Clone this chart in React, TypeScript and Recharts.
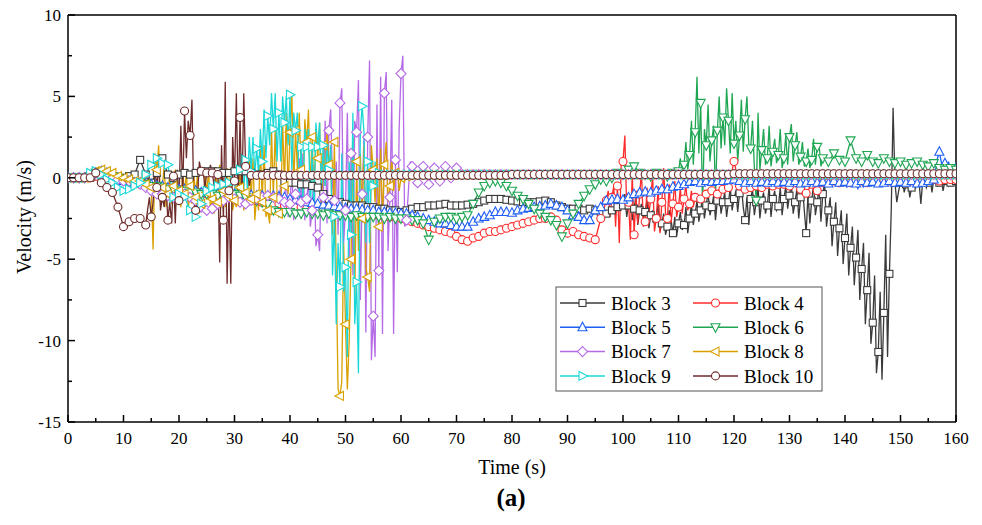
import React from 'react';
import { LineChart, Line, XAxis, YAxis, ReferenceLine } from 'recharts';

// one value per second, t = 0..160 (these carry the markers)
const b3 = [
  0, 0, 0, 0, 0, 0.1, 0.1, 0, 0, 0,
  0, 0.1, 0.2, 1.1, 0.2, -0.3, 0.3, 1.2, 0.2, 0,
  0.2, 0.3, 0.2, 0.3, 0.4, 0.4, 0.4, 0.4, 0.3, 0.3,
  0.4, 0.4, 0.4, 0.3, 0.2, 0.2, 0.3, 0.4, 0.2, -0.2,
  -0.3, -0.3, -0.4, -0.4, -0.5, -0.6, -1.0, -1.3, -1.5, -1.5,
  -1.6, -1.7, -1.7, -1.7, -1.8, -1.8, -1.9, -1.9, -2.0, -2.0,
  -2.1, -2.0, -1.9, -1.8, -1.8, -1.7, -1.7, -1.65, -1.6, -1.7,
  -1.7, -1.7, -1.65, -1.6, -1.5, -1.4, -1.3, -1.3, -1.3, -1.35,
  -1.4, -1.45, -1.5, -1.5, -1.5, -1.45, -1.4, -1.5, -1.7, -1.8,
  -1.9, -1.9, -1.9, -2.0, -1.9, -2.0, -2.1, -2.2, -2.0, -1.8,
  -1.7, -1.7, -1.9, -2.0, -2.1, -2.3, -2.5, -2.8, -3.0, -3.4,
  -2.8, -2.9, -2.5, -2.2, -2.0, -1.7, -1.8, -1.4, -1.5, -1.5,
  -1.3, -0.95, -2.6, -1.3, -1.5, -1.4, -1.7, -1.3, -1.75, -1.3,
  -1.1, -1.5, -1.2, -3.4, -1.4, -1.5, -1.0, -2.0, -2.7, -3.1,
  -3.7, -4.3, -4.9, -5.6, -6.9, -8.9, -10.7, -8.3, -5.9, -0.3,
  -0.3, -0.4, -0.6, -0.3, -0.2, -0.3, -0.1, -0.3, -0.2, -0.3,
  -0.2,
];
const b4 = [
  0, 0, 0, 0, 0, 0.1, 0.1, 0, -0.1, -0.2,
  -0.2, -0.3, -0.3, -0.4, -0.4, -0.5, -0.5, -0.6, -0.6, -0.7,
  -0.7, -0.8, -0.8, -0.9, -0.9, -1.0, -1.0, -1.1, -1.1, -1.2,
  -1.2, -1.3, -1.3, -1.4, -1.4, -1.5, -1.5, -1.6, -1.6, -1.7,
  -1.7, -1.8, -1.8, -1.9, -1.9, -2.0, -2.0, -2.0, -2.1, -2.1,
  -2.1, -2.2, -2.2, -2.2, -2.3, -2.3, -2.3, -2.4, -2.4, -2.4,
  -2.5, -2.6, -2.7, -2.8, -2.9, -3.0, -3.1, -3.2, -3.3, -3.4,
  -3.6, -3.8, -3.9, -3.7, -3.6, -3.4, -3.3, -3.3, -3.2, -3.1,
  -3.0, -2.9, -2.8, -2.7, -2.6, -2.5, -2.5, -2.4, -2.6, -3.2,
  -3.4, -3.3, -3.5, -3.6, -3.7, -3.8, -2.5, -1.4, -1.2, -0.5,
  1.0, -1.5, -3.5, -1.0, -2.7, -1.3, -2.5, -1.5, -2.5, -1.6,
  -1.8, -1.3, -1.6, -1.2, -1.3, -1.0, -0.8, -1.0, -0.7, -0.6,
  1.0, -0.5, -0.7, -0.6, -0.5, -0.6, -0.4, -0.5, -0.4, -0.4,
  -0.5, -0.3, -0.7, -0.95, -0.4, -0.8, -0.3, -0.3, -0.2, -0.3,
  -0.2, -0.3, -0.2, -0.2, -0.3, -0.2, -0.1, -0.2, -0.2, -0.1,
  -0.2, -0.1, -0.2, -0.1, -0.2, -0.1, -0.1, -0.2, -0.1, -0.1,
  -0.1,
];
const b5 = [
  0, 0, 0, 0, 0.1, 0.3, 0.4, 0.3, 0.1, 0,
  -0.2, -0.2, -0.3, -0.3, -0.4, -0.4, -0.5, -0.5, -0.6, -0.6,
  -0.7, -0.7, -0.8, -0.8, -0.9, -0.9, -0.9, -1.0, -1.0, -1.0,
  -1.0, -1.0, -1.05, -1.05, -1.1, -1.1, -1.1, -1.1, -1.15, -1.2,
  -1.3, -1.35, -1.4, -1.5, -1.55, -1.6, -1.65, -1.7, -1.75, -1.8,
  -1.85, -1.9, -1.9, -1.95, -2.0, -2.0, -2.1, -2.1, -2.15, -2.15,
  -2.2, -2.2, -2.3, -2.4, -2.5, -2.6, -2.7, -2.8, -2.8, -2.9,
  -3.0, -3.0, -3.0, -2.7, -2.5, -2.4, -2.3, -2.1, -2.1, -2.1,
  -2.15, -2.0, -1.9, -1.85, -1.8, -1.75, -1.7, -1.6, -1.7, -1.8,
  -2.0, -2.3, -2.4, -2.6, -2.6, -2.0, -1.8, -1.4, -1.35, -1.3,
  -1.35, -1.2, -1.0, -0.9, -0.85, -0.9, -0.8, -0.7, -0.7, -0.55,
  -0.5, -0.4, -0.25, -0.2, -0.3, -0.2, -0.25, -0.2, -0.2, -0.15,
  -0.1, -0.2, -0.3, -0.2, -0.3, -0.25, -0.3, -0.2, -0.3, -0.25,
  -0.3, -0.2, -0.35, -0.3, -0.2, -0.3, -0.25, -0.35, -0.2, -0.3,
  -0.25, -0.3, -0.35, -0.2, -0.3, -0.25, -0.35, -0.3, -0.2, -0.3,
  -0.25, -0.3, -0.2, -0.35, -0.3, -0.2, -0.1, 1.6, 0.9, 0.4,
  0.6,
];
const b6 = [
  0, 0, 0, 0, 0.1, 0.3, 0.3, 0.2, 0.1, 0,
  -0.1, -0.2, -0.3, -0.3, -0.4, -0.5, -0.5, -0.6, -0.7, -0.7,
  -0.8, -0.8, -0.9, -0.9, -1.0, -1.0, -1.0, -1.1, -1.1, -1.0,
  -1.0, -1.1, -1.2, -1.3, -1.4, -1.5, -1.6, -2.0, -2.1, -2.1,
  -2.1, -2.2, -2.2, -2.1, -2.2, -2.2, -2.3, -2.2, -2.3, -2.3,
  -2.3, -2.4, -2.3, -2.4, -2.4, -2.4, -2.4, -2.5, -2.4, -2.5,
  -2.5, -2.5, -2.6, -2.6, -2.8, -3.8, -2.7, -2.5, -2.4, -2.4,
  -2.5, -2.4, -2.3, -1.6, -0.9, -0.5, -0.3, -0.2, -0.3, -0.5,
  -0.8, -1.1, -1.3, -1.6, -1.9, -2.2, -2.4, -2.6, -2.9, -3.6,
  -2.8, -2.2, -1.6, -1.1, -0.7, -0.4, -0.1, -0.2, 0.0, 0.3,
  0.2, 0.5, 0.7, 0.3, 0.2, 0.1, 0.3, 0.2, 0.1, 0.3,
  0.4, 0.8, 1.4, 2.8, 4.6, 2.0, 2.3, 2.9, 3.7, 3.5,
  2.1, 2.6, 3.6, 1.8, -1.4, 1.7, 1.2, 1.6, 1.4, 1.2,
  2.5, 2.0, 1.3, 1.0, 1.1, 1.9, 1.2, 1.0, 1.5, 1.1,
  1.0, 2.3, 1.2, 1.0, 1.4, 1.0, 0.9, 1.2, 1.0, 0.9,
  1.0, 0.8, 0.9, 1.0, 0.8, 0.7, 0.9, 0.6, 0.5, 0.6,
  0.5,
];
const b7 = [
  0, 0, 0, 0, 0.1, 0.3, 0.2, 0.1, 0, -0.1,
  -0.2, -0.2, -0.3, -0.4, -0.6, -0.8, -1.0, -1.0, -1.1, -1.2,
  -1.1, -1.0, -1.2, -1.4, -1.8, -2.0, -1.9, -1.6, -1.4, -1.2,
  -1.3, -1.5, -1.6, -1.4, -1.3, -1.2, -1.1, -1.2, -1.3, -1.5,
  -1.6, -1.0, -1.5, -1.3, -2.0, -3.5, -1.2, 2.9, -1.4, 4.6,
  -2.0, 1.5, 2.8, -1.0, 2.5, -8.5, -5.7, 5.2, -1.2, 1.1,
  6.4, -2.6, 0.7, -0.3, 0.7, -0.4, 0.6, -0.2, 0.7, 0.0,
  0.6, 0.2, 0.2, 0.2, 0.2, 0.2, 0.2, 0.2, 0.2, 0.2,
  0.2, 0.2, 0.2, 0.2, 0.2, 0.2, 0.2, 0.2, 0.2, 0.2,
  0.2, 0.2, 0.2, 0.2, 0.2, 0.2, 0.2, 0.2, 0.2, 0.2,
  0.2, 0.2, 0.2, 0.2, 0.2, 0.2, 0.2, 0.2, 0.2, 0.2,
  0.2, 0.2, 0.2, 0.2, 0.2, 0.2, 0.2, 0.2, 0.2, 0.2,
  0.2, 0.2, 0.2, 0.2, 0.2, 0.2, 0.2, 0.2, 0.2, 0.2,
  0.2, 0.2, 0.2, 0.2, 0.2, 0.2, 0.2, 0.2, 0.2, 0.2,
  0.2, 0.2, 0.2, 0.2, 0.2, 0.2, 0.2, 0.2, 0.2, 0.2,
  0.2, 0.2, 0.2, 0.2, 0.2, 0.2, 0.2, 0.2, 0.2, 0.2,
  0.2,
];
const b8 = [
  0, 0, 0, 0, 0.1, 0.4, 0.5, 0.4, 0.3, 0.1,
  0, -0.1, -0.2, -0.2, -0.4, -0.6, 0.5, -0.6, -1.0, -0.5,
  -0.8, -1.0, -0.5, -1.2, -1.6, -0.9, -1.3, -1.5, -0.8, -1.1,
  -1.4, -0.6, -0.9, -1.3, -1.0, -1.5, -2.0, -1.2, -2.2, -0.5,
  2.8, 2.9, 0.5, 2.2, 2.5, 1.2, 2.0, 0.8, 2.2, -13.4,
  -9.0, -5.0, 1.0, -2.5, -6.1, 0.5, -3.0, 0.8, -0.5, 0.3,
  0, 0.1, 0.2, 0.2, 0.2, 0.2, 0.2, 0.2, 0.2, 0.2,
  0.2, 0.2, 0.2, 0.2, 0.2, 0.2, 0.2, 0.2, 0.2, 0.2,
  0.2, 0.2, 0.2, 0.2, 0.2, 0.2, 0.2, 0.2, 0.2, 0.2,
  0.2, 0.2, 0.2, 0.2, 0.2, 0.2, 0.2, 0.2, 0.2, 0.2,
  0.2, 0.2, 0.2, 0.2, 0.2, 0.2, 0.2, 0.2, 0.2, 0.2,
  0.2, 0.2, 0.2, 0.2, 0.2, 0.2, 0.2, 0.2, 0.2, 0.2,
  0.2, 0.2, 0.2, 0.2, 0.2, 0.2, 0.2, 0.2, 0.2, 0.2,
  0.2, 0.2, 0.2, 0.2, 0.2, 0.2, 0.2, 0.2, 0.2, 0.2,
  0.2, 0.2, 0.2, 0.2, 0.2, 0.2, 0.2, 0.2, 0.2, 0.2,
  0.2, 0.2, 0.2, 0.2, 0.2, 0.2, 0.2, 0.2, 0.2, 0.2,
  0.2,
];
const b9 = [
  0, 0, 0, 0, 0.3, 0.4, 0.2, -0.1, -0.3, -0.6,
  -0.8, -0.7, -0.5, -0.3, 0.2, 0.8, 1.2, 0.9, 0.8, -1.2,
  -1.0, -1.2, -2.0, -2.4, -1.6, -0.8, -0.6, -0.5, -0.4, -0.3,
  -0.2, 0.5, 1.1, 0.4, 1.8, 1.0, 3.8, 3.0, 4.0, 3.4,
  5.1, 2.9, 1.9, 1.9, 1.9, 1.9, 2.0, 0.5, -2.4, -6.7,
  -5.5, -3.5, -6.4, 4.4, 1.0, -0.5, 0.3, 0.2, 0.2, 0.2,
  0.2, 0.2, 0.2, 0.2, 0.2, 0.2, 0.2, 0.2, 0.2, 0.2,
  0.2, 0.2, 0.2, 0.2, 0.2, 0.2, 0.2, 0.2, 0.2, 0.2,
  0.2, 0.2, 0.2, 0.2, 0.2, 0.2, 0.2, 0.2, 0.2, 0.2,
  0.2, 0.2, 0.2, 0.2, 0.2, 0.2, 0.2, 0.2, 0.2, 0.2,
  0.2, 0.2, 0.2, 0.2, 0.2, 0.2, 0.2, 0.2, 0.2, 0.2,
  0.2, 0.2, 0.2, 0.2, 0.2, 0.2, 0.2, 0.2, 0.2, 0.2,
  0.2, 0.2, 0.2, 0.2, 0.2, 0.2, 0.2, 0.2, 0.2, 0.2,
  0.2, 0.2, 0.2, 0.2, 0.2, 0.2, 0.2, 0.2, 0.2, 0.2,
  0.2, 0.2, 0.2, 0.2, 0.2, 0.2, 0.2, 0.2, 0.2, 0.2,
  0.2, 0.2, 0.2, 0.2, 0.2, 0.2, 0.2, 0.2, 0.2, 0.2,
  0.2,
];
const b10 = [
  0, 0, 0, 0, 0, 0.3, -0.3, -0.6, -0.9, -1.8,
  -3.0, -2.7, -2.5, -2.5, -2.9, -2.4, -0.6, -1.2, -2.6, 0.1,
  -1.4, 4.1, 2.6, -2.0, 0.4, 0.3, 0.3, 0.2, -2.6, -0.8,
  -0.2, 3.7, 0.7, 0.15, 0.15, 0.15, 0.15, 0.15, 0.15, 0.15,
  0.15, 0.15, 0.15, 0.15, 0.15, 0.15, 0.15, 0.15, 0.15, 0.15,
  0.15, 0.15, 0.15, 0.15, 0.15, 0.15, 0.15, 0.15, 0.15, 0.15,
  0.15, 0.15, 0.15, 0.15, 0.15, 0.15, 0.15, 0.15, 0.15, 0.15,
  0.15, 0.15, 0.15, 0.15, 0.15, 0.15, 0.15, 0.15, 0.15, 0.15,
  0.2, 0.2, 0.2, 0.2, 0.2, 0.2, 0.2, 0.2, 0.2, 0.2,
  0.2, 0.2, 0.2, 0.2, 0.2, 0.2, 0.2, 0.2, 0.2, 0.2,
  0.2, 0.2, 0.2, 0.2, 0.2, 0.2, 0.2, 0.2, 0.2, 0.2,
  0.2, 0.2, 0.2, 0.2, 0.2, 0.2, 0.2, 0.2, 0.2, 0.2,
  0.25, 0.25, 0.25, 0.25, 0.25, 0.25, 0.25, 0.25, 0.25, 0.25,
  0.25, 0.25, 0.25, 0.25, 0.25, 0.25, 0.25, 0.25, 0.25, 0.25,
  0.25, 0.25, 0.25, 0.25, 0.25, 0.25, 0.25, 0.25, 0.25, 0.25,
  0.25, 0.25, 0.25, 0.25, 0.25, 0.25, 0.25, 0.25, 0.25, 0.25,
  0.25,
];

// two extra readings per second (at +1/3 s and +2/3 s) inside the noisy stretches, no markers
const b3MidStart = 100;
const b3Mid = [
  -1.0, -2.4, -1.3, -2.6, -1.1, -2.9, -1.6, -2.5, -1.4, -3.1,
  -2.0, -2.8, -1.6, -3.3, -2.2, -3.5, -2.0, -2.6, -2.4, -3.6,
  -2.1, -3.2, -1.8, -3.4, -1.6, -2.9, -1.4, -2.7, -1.2, -2.5,
  -0.9, -2.3, -1.1, -2.6, -0.7, -2.2, -0.9, -2.4, -0.6, -2.0,
  -0.8, -2.1, -0.5, -1.8, -1.2, -2.9, -0.7, -2.3, -0.6, -2.5,
  -0.9, -2.2, -0.5, -2.4, -0.8, -2.0, -0.6, -2.3, -0.5, -1.9,
  -0.4, -2.2, -0.7, -2.5, -0.5, -2.0, -1.0, -2.8, -0.4, -2.3,
  -0.6, -2.7, -0.3, -3.0, -1.2, -4.2, -1.5, -4.8, -2.0, -5.3,
  -2.2, -6.0, -3.0, -6.6, -3.2, -7.5, -4.0, -9.0, -4.6, -10.2,
  -6.0, -12.0, -7.0, -12.4, -3.5, -11.0, -2.0, 4.3, -1.5, -0.8,
  0.0, -0.9, -0.1, -1.2, 0.1, -0.7, -0.2, -1.6, 0.0, -0.6,
  0.1, -0.9, -0.2, -0.5, 0.0, -0.8, -0.1, -0.5, 0.0, -0.4,
];
const b4MidStart = 97;
const b4Mid = [
  -0.8, -2.4, -0.5, -3.0, -4.0, 0.8, 2.6, -2.0, -3.8, 0.3,
  -1.2, -2.8, 0.4, -3.0, -0.6, -2.2, 0.2, -3.3, -0.5, -3.4,
  0.6, -2.2, -0.4, -2.8, -0.2, -2.4, -0.6, -2.2, -0.4, -2.0,
  -0.8, -1.8,
];
const b5MidStart = 140;
const b5Mid = [
  -0.6, 0.1, -0.5, 0.0, -0.7, 0.2, -0.6, 0.1, -0.5, 0.0,
  -0.4, 0.1, -0.5, 0.0, -0.4, 0.2, -0.3, 0.0, -0.5, 0.1,
  -0.4, 0.2, -0.3, 0.0, -0.5, 0.1, -0.4, 0.0, -0.3, 0.2,
  -0.2, 0.4, 0.5, 1.2, 1.0, 0.3, 0.2, 1.0, 0.8, 0.3,
];
const b6MidStart = 110;
const b6Mid = [
  1.2, 0.2, 2.2, 0.5, 3.5, 0.8, 6.2, 1.5, -1.8, 3.0,
  4.5, 1.0, 3.2, -1.2, 5.0, 1.8, 2.0, 5.5, 1.5, 5.2,
  3.5, 1.0, 4.8, 1.6, 5.0, 2.0, 3.5, 0.6, 4.0, 0.5,
  3.0, 0.8, 3.2, 0.7, 2.4, 0.9, 3.0, 0.6, 2.6, 0.8,
  3.3, 1.0, 2.8, 0.8, 2.2, 0.7, 1.8, 0.6, 2.4, 0.8,
  2.0, 0.7,
];
const b7MidStart = 38;
const b7Mid = [
  -0.5, -2.0, 0.2, -2.4, 0.5, -2.6, -2.4, 1.2, 1.5, -2.6,
  -0.3, -3.0, 0.8, -4.2, -4.5, 1.0, 3.5, -2.8, 4.2, -0.5,
  1.0, -3.5, 5.5, -4.0, 4.0, -5.0, -6.0, 3.5, 6.0, -7.5,
  2.5, -9.5, 7.2, -11.2, -11.0, 4.5, 6.2, -9.6, 6.5, -4.5,
  4.8, -9.6, -5.8, 3.0, 7.5, -3.0, -0.8, 1.0,
];
const b8MidStart = 14;
const b8Mid = [
  -0.2, -1.0, -4.4, 1.5, 2.0, -1.5, 0.8, -1.8, 0.2, -1.6,
  0.5, -1.4, -1.8, 0.4, 0.4, -2.0, -1.6, 0.3, 0.3, -2.2,
  -1.8, 0.2, 0.5, -2.0, -2.2, 0.4, 0.8, -1.5, -1.8, 0.6,
  0.6, -2.0, -1.8, 0.9, 1.0, -2.0, -1.5, 1.2, 1.2, -2.6,
  -2.0, 2.0, 2.0, -2.4, -2.8, 3.0, 3.0, -1.0, -2.4, 3.5,
  4.0, -1.0, 5.2, -0.5, 0.5, 4.0, -1.2, 3.6, 4.2, -0.8,
  -1.5, 3.0, 3.4, -2.0, -0.5, 3.0, 1.5, -3.5, -6.0, -13.0,
  -12.5, -4.0, -13.0, -10.0, 2.5, -7.5, -4.5, 1.5, 2.0, -5.5,
  -7.0, 2.0, -1.5, 1.2, 1.8, -2.5, 2.2, -1.5, 1.2, -0.8,
  0.5, -0.8, 0.4, -0.2, 0.3, 0.1,
];
const b9MidStart = 30;
const b9Mid = [
  -1.5, 0.8, 1.5, -0.8, -0.8, 2.5, 2.5, 0.2, 0.2, 3.0,
  4.2, 1.2, 2.0, 5.2, 5.2, 1.0, 1.0, 5.0, 5.0, 2.0,
  0.5, 4.0, 4.0, -1.5, -1.5, 3.0, 3.0, -2.2, -2.2, 3.4,
  3.4, -0.5, -0.5, 2.0, 2.0, -6.0, -9.0, -4.0, 1.5, -7.0,
  -11.0, 1.0, 4.0, -9.0, -12.0, 2.8, 2.8, -4.0, -4.0, 1.0,
  1.0, -0.5,
];
const b10MidStart = 14;
const b10Mid = [
  -2.0, -1.2, -1.5, 0.6, 0.9, -2.0, -1.8, -0.5, -1.5, -2.8,
  -2.8, 0.5, 3.2, -1.0, 1.2, 3.5, 4.8, -1.5, -1.2, 1.0,
  0.5, -0.6, 0.2, 0.8, -0.5, 0.4, -5.2, 2.0, 5.9, -6.5,
  -6.5, 2.5, 5.2, -1.5, -1.5, 5.2, 0.6, -0.5,
];

const xTicks = [0, 5, 10, 15, 20, 25, 30, 35, 40, 45, 50, 55, 60, 65, 70, 75, 80, 85, 90, 95, 100, 105, 110, 115, 120, 125, 130, 135, 140, 145, 150, 155, 160];
const yTicks = [-15, -12.5, -10, -7.5, -5, -2.5, 0, 2.5, 5, 7.5, 10];

type Pt = { t: number; v: number; m: boolean };
type Shape = 'square' | 'circle' | 'up' | 'down' | 'diamond' | 'left' | 'right';

const build = (base: number[], mid: number[], midStart: number): Pt[] => {
  const pts: Pt[] = base.map((v, i) => ({ t: i, v, m: true }));
  mid.forEach((v, i) => pts.push({ t: midStart + Math.floor(i / 2) + ((i % 2) + 1) / 3, v, m: false }));
  return pts.sort((a, b) => a.t - b.t);
};

const series: { name: string; color: string; shape: Shape; data: Pt[] }[] = [
  { name: 'Block 3', color: '#3a3a3a', shape: 'square', data: build(b3, b3Mid, b3MidStart) },
  { name: 'Block 4', color: '#ff2b2b', shape: 'circle', data: build(b4, b4Mid, b4MidStart) },
  { name: 'Block 5', color: '#1f5ff5', shape: 'up', data: build(b5, b5Mid, b5MidStart) },
  { name: 'Block 6', color: '#1fa653', shape: 'down', data: build(b6, b6Mid, b6MidStart) },
  { name: 'Block 7', color: '#b56ae6', shape: 'diamond', data: build(b7, b7Mid, b7MidStart) },
  { name: 'Block 8', color: '#d9a000', shape: 'left', data: build(b8, b8Mid, b8MidStart) },
  { name: 'Block 9', color: '#1ad8d8', shape: 'right', data: build(b9, b9Mid, b9MidStart) },
  { name: 'Block 10', color: '#6e2b2b', shape: 'circle', data: build(b10, b10Mid, b10MidStart) },
];

const PLOT_LEFT = 68;
const PLOT_BOTTOM = 422;
const FONT = "'Liberation Serif', 'Times New Roman', serif";

const Marker = ({ shape, color, cx, cy }: { shape: Shape; color: string; cx: number; cy: number }) => {
  const common = { fill: '#fff', stroke: color, strokeWidth: 1.1 };
  switch (shape) {
    case 'square':
      return <rect x={cx - 3.5} y={cy - 3.5} width={7} height={7} {...common} />;
    case 'circle':
      return <circle cx={cx} cy={cy} r={4} {...common} />;
    case 'up':
      return <polygon points={`${cx},${cy - 5} ${cx - 4.5},${cy + 3.5} ${cx + 4.5},${cy + 3.5}`} {...common} />;
    case 'down':
      return <polygon points={`${cx},${cy + 5} ${cx - 4.5},${cy - 3.5} ${cx + 4.5},${cy - 3.5}`} {...common} />;
    case 'diamond':
      return <polygon points={`${cx},${cy - 5} ${cx + 5},${cy} ${cx},${cy + 5} ${cx - 5},${cy}`} {...common} />;
    case 'left':
      return <polygon points={`${cx - 5},${cy} ${cx + 3.5},${cy - 4.5} ${cx + 3.5},${cy + 4.5}`} {...common} />;
    default:
      return <polygon points={`${cx + 5},${cy} ${cx - 3.5},${cy - 4.5} ${cx - 3.5},${cy + 4.5}`} {...common} />;
  }
};

const YTick = (props: any) => {
  const { y, payload } = props;
  const major = payload.value % 5 === 0;
  return (
    <g>
      <line x1={PLOT_LEFT} x2={PLOT_LEFT + (major ? 7 : 4)} y1={y} y2={y} stroke="#000" strokeWidth={1.5} />
      {major && (
        <text x={PLOT_LEFT - 7} y={y} dy="0.35em" textAnchor="end" fontSize={17} fontFamily={FONT} fill="#000">
          {payload.value}
        </text>
      )}
    </g>
  );
};

const XTick = (props: any) => {
  const { x, payload } = props;
  const major = payload.value % 10 === 0;
  return (
    <g>
      <line x1={x} x2={x} y1={PLOT_BOTTOM} y2={PLOT_BOTTOM - (major ? 7 : 4)} stroke="#000" strokeWidth={1.5} />
      {major && (
        <text x={x} y={PLOT_BOTTOM + 22} textAnchor="middle" fontSize={17} fontFamily={FONT} fill="#000">
          {payload.value}
        </text>
      )}
    </g>
  );
};

const LegendBox = () => {
  const rows = [[0, 1], [2, 3], [4, 5], [6, 7]];
  return (
    <g>
      <rect x={556} y={287} width={266} height={104} fill="#fff" stroke="#555" strokeWidth={1} />
      {rows.map((pair, r) =>
        pair.map((idx, c) => {
          const s = series[idx];
          const y = 303 + r * 24.3;
          const x0 = c === 0 ? 560 : 693;
          return (
            <g key={s.name}>
              <line x1={x0} x2={x0 + 45} y1={y} y2={y} stroke={s.color} strokeWidth={1.5} />
              <Marker shape={s.shape} color={s.color} cx={x0 + 22.5} cy={y} />
              <text x={x0 + 51} y={y} dy="0.35em" fontSize={19} fontFamily={FONT} fill="#000">
                {s.name}
              </text>
            </g>
          );
        })
      )}
    </g>
  );
};

export default function App() {
  return (
    <div style={{ position: 'absolute', left: 0, top: 0, width: 982, height: 525, background: '#fff' }}>
      <LineChart width={982} height={525} margin={{ top: 15, right: 26, left: 0, bottom: 73 }}>
        <XAxis
          type="number"
          dataKey="t"
          domain={[0, 160]}
          ticks={xTicks}
          interval={0}
          height={30}
          tickLine={false}
          tick={<XTick />}
          axisLine={{ stroke: '#000', strokeWidth: 1.5 }}
          allowDataOverflow
        />
        <YAxis
          type="number"
          dataKey="v"
          domain={[-15, 10]}
          ticks={yTicks}
          interval={0}
          width={68}
          tickLine={false}
          tick={<YTick />}
          axisLine={{ stroke: '#000', strokeWidth: 1.5 }}
          allowDataOverflow
        />
        <ReferenceLine y={10} stroke="#000" strokeWidth={1.5} />
        <ReferenceLine x={160} stroke="#000" strokeWidth={1.5} />
        {series.map((s) => (
          <Line
            key={s.name}
            data={s.data}
            dataKey="v"
            type="linear"
            stroke={s.color}
            strokeWidth={1.3}
            isAnimationActive={false}
            dot={(p: any) =>
              p.payload && p.payload.m ? (
                <Marker key={`${s.name}-${p.index}`} shape={s.shape} color={s.color} cx={p.cx} cy={p.cy} />
              ) : (
                <g key={`${s.name}-${p.index}`} />
              )
            }
          />
        ))}
      </LineChart>
      <svg width={982} height={525} style={{ position: 'absolute', left: 0, top: 0, pointerEvents: 'none' }}>
        <text x={24} y={217} transform="rotate(-90 24 217)" textAnchor="middle" dy="0.35em" fontSize={20} fontFamily={FONT} fill="#000">
          Velocity (m/s)
        </text>
        <text x={512} y={474} textAnchor="middle" fontSize={20} fontFamily={FONT} fill="#000">
          Time (s)
        </text>
        <text x={511} y={506} textAnchor="middle" fontSize={25} fontWeight="bold" fontFamily={FONT} fill="#000">
          (a)
        </text>
        <LegendBox />
      </svg>
    </div>
  );
}
